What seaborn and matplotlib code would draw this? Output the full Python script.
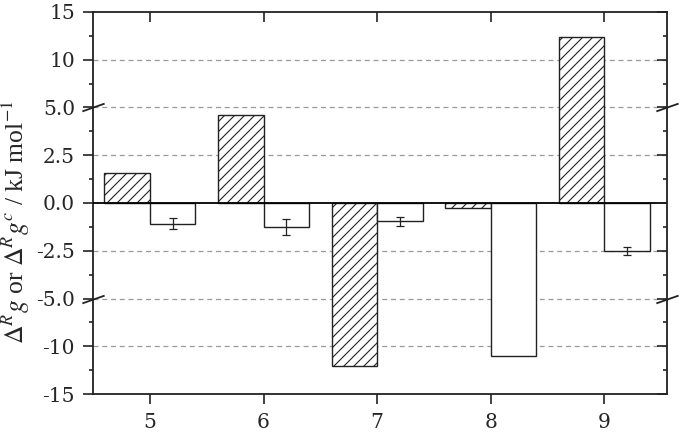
import numpy as np
import pandas as pd
import matplotlib
matplotlib.use("Agg")
from matplotlib import pyplot as plt
import seaborn as sns

# values
categories = ["5", "6", "7", "8", "9"]
delta_rg = [1.55, 4.6, -12.1, -0.26, 12.35]
delta_rgc = [-1.08, -1.24, -0.96, -11.0, -2.5]
delta_rgc_err = [0.28, 0.42, 0.22, np.nan, 0.2]

y_ticks = [-15, -10, -5, -2.5, 0, 2.5, 5, 10, 15]
y_ticklabels = ["-15", "-10", "-5.0", "-2.5", "0.0", "2.5", "5.0", "10", "15"]
y_minor = [-12.5, -7.5, -3.75, -1.25, 1.25, 3.75, 7.5, 12.5]
y_grid = [-10, -5, -2.5, 2.5, 5, 10]

DPI = 120
S = 100 / DPI  # sizes below were tuned as points at 100 dpi


def fwd(v):
    v = np.asarray(v, dtype=float)
    a = np.abs(v)
    return np.where(a <= 5, v / 2.5, np.sign(v) * (2 + (a - 5) / 5))


def inv(t):
    t = np.asarray(t, dtype=float)
    a = np.abs(t)
    return np.where(a <= 2, t * 2.5, np.sign(t) * (5 + (a - 2) * 5))


sns.set_style("ticks")
plt.rcParams["font.family"] = ["DejaVu Serif"]
plt.rcParams["mathtext.fontset"] = "stix"
plt.rcParams["hatch.color"] = "#505050"
plt.rcParams["hatch.linewidth"] = 0.8 * S

df = pd.DataFrame({
    "n": categories * 2,
    "kind": ["g"] * len(categories) + ["gc"] * len(categories),
    "value": delta_rg + delta_rgc,
})

fig = plt.figure(figsize=(685 / DPI, 444 / DPI), dpi=DPI)
ax = fig.add_axes([0.1358, 0.1126, 0.8379, 0.8604])
ax.set_yscale("function", functions=(fwd, inv))

sns.barplot(data=df, x="n", y="value", hue="kind", palette=["white", "white"],
            edgecolor="#222222", linewidth=1.0 * S, errorbar=None, legend=False,
            width=0.8, ax=ax, zorder=3)

for bar in ax.containers[0]:
    bar.set_hatch("////")

# error bars on the open bars
for bar, err in zip(ax.containers[1], delta_rgc_err):
    if np.isnan(err):
        continue
    xc = bar.get_x() + bar.get_width() / 2
    ax.errorbar(xc, bar.get_y() + bar.get_height(), yerr=err, fmt="none",
                ecolor="#222222", elinewidth=0.9 * S, capsize=2.6 * S,
                capthick=0.9 * S, zorder=4)

ax.axhline(0, color="black", lw=1.3 * S, zorder=5)
for g in y_grid:
    ax.axhline(g, color="#9a9a9a", lw=0.9 * S, ls=(0, (4, 3)), zorder=1)

ax.set_ylim(-15, 15)
ax.set_xlim(-0.5, 4.55)
ax.set_yticks(y_ticks)
ax.set_yticklabels(y_ticklabels)
ax.set_yticks(y_minor, minor=True)
ax.set_xlabel("")
ax.set_ylabel(r"$\Delta^R g$ or $\Delta^R g^c$ / kJ mol$^{-1}$",
              fontsize=18.5 * S, family=["Liberation Serif"])
ax.yaxis.set_label_coords(-0.106, 0.45)
ax.tick_params(axis="both", which="major", labelsize=14.5 * S, length=7.5 * S,
               width=1.2 * S, direction="out", color="#222222", pad=5.4 * S)
ax.tick_params(axis="x", which="major", pad=6.5 * S)
ax.tick_params(axis="y", which="minor", length=3.2 * S, width=1.2 * S, direction="out")
for sp in ax.spines.values():
    sp.set_visible(True)
    sp.set_linewidth(1.3 * S)
    sp.set_color("#222222")

# inward ticks on the right and top
axr = ax.twinx()
axr.set_yscale("function", functions=(fwd, inv))
axr.set_ylim(-15, 15)
axr.set_yticks(y_ticks)
axr.set_yticks(y_minor, minor=True)
axr.tick_params(axis="y", which="major", direction="in", length=7.5 * S,
                width=1.2 * S, labelright=False, color="#222222")
axr.tick_params(axis="y", which="minor", direction="in", length=3.2 * S, width=1.2 * S)
axt = ax.twiny()
axt.set_xlim(ax.get_xlim())
axt.set_xticks(range(len(categories)))
axt.tick_params(axis="x", direction="in", length=7 * S, width=1.2 * S,
                labeltop=False, color="#222222")
for a in (axr, axt):
    for sp in a.spines.values():
        sp.set_visible(False)

# axis break marks at +/-5
for xa in (0, 1):
    for yb in (-5, 5):
        ax.plot([xa], [yb], marker=[(-1, -0.35), (1, 0.35)], markersize=16 * S,
                markeredgewidth=1.3 * S, color="#222222", clip_on=False,
                transform=ax.get_yaxis_transform(), zorder=6)

fig.savefig("out.png", dpi=DPI)
